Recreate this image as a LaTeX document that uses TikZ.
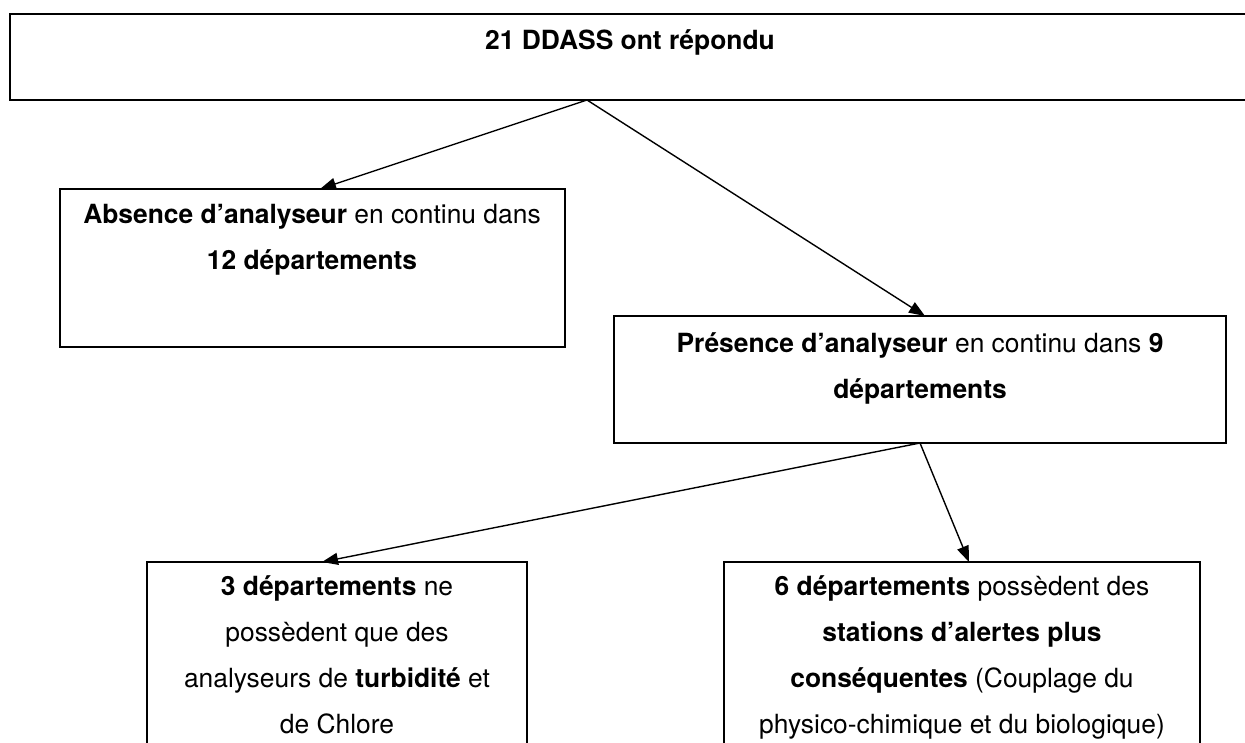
\documentclass[tikz,border=0pt]{standalone}
\usepackage{fontspec}
\setmainfont{TeX Gyre Heros}
\usetikzlibrary{arrows.meta}
\begin{document}
\begin{tikzpicture}[x=1pt,y=-1pt,
  box/.style={draw=black,line width=1.8pt,inner sep=0pt,outer sep=0pt},
  topbox/.style={box,line width=2.2pt},
  txt/.style={inner sep=0pt,outer sep=0pt,align=center,anchor=base,
    font=\fontsize{26.4pt}{46pt}\selectfont},
  link/.style={line width=1.4pt,-{Triangle[length=16pt,width=12pt]}}]
\clip (0,0) rectangle (1245,742);
\fill[white] (0,0) rectangle (1245,742);

% boxes
\node[topbox,minimum width=1240pt,minimum height=86pt] (top) at (630,57) {};
\node[box,minimum width=505pt,minimum height=158pt] (absent) at (312.5,268) {};
\node[box,minimum width=612pt,minimum height=127pt] (present) at (920,379.5) {};
\node[box,minimum width=380pt,minimum height=198pt] (turb) at (337,661) {};
\node[box,minimum width=476pt,minimum height=198pt] (alert) at (962,661) {};

% texts (the base anchor sits on the last line)
\node[txt] (ttop) at (630,49) {\textbf{21 DDASS ont répondu}};
\node[txt] (tabsent) at (312,269) {\textbf{Absence d’analyseur} en continu dans\\\textbf{12 départements}};
\node[txt] (tpresent) at (920,398) {\textbf{Présence d’analyseur} en continu dans \textbf{9}\\\textbf{départements}};
\node[txt] (tturb) at (337,733) {\textbf{3 départements} ne\\possèdent que des\\analyseurs de \textbf{turbidité} et\\de Chlore};
\node[txt] (talert) at (962,733) {\textbf{6 départements} possèdent des\\\textbf{stations d’alertes plus}\\\textbf{conséquentes} (Couplage du\\physico-chimique et du biologique)};

% connectors
\draw[link] ([xshift=577pt]top.south west) -- ([xshift=260pt]absent.north west);
\draw[link] ([xshift=577pt]top.south west) -- ([xshift=311pt]present.north west);
\draw[link] (present.south) -- ([xshift=175pt]turb.north west);
\draw[link] (present.south) -- ([xshift=245pt]alert.north west);
\end{tikzpicture}
\end{document}
